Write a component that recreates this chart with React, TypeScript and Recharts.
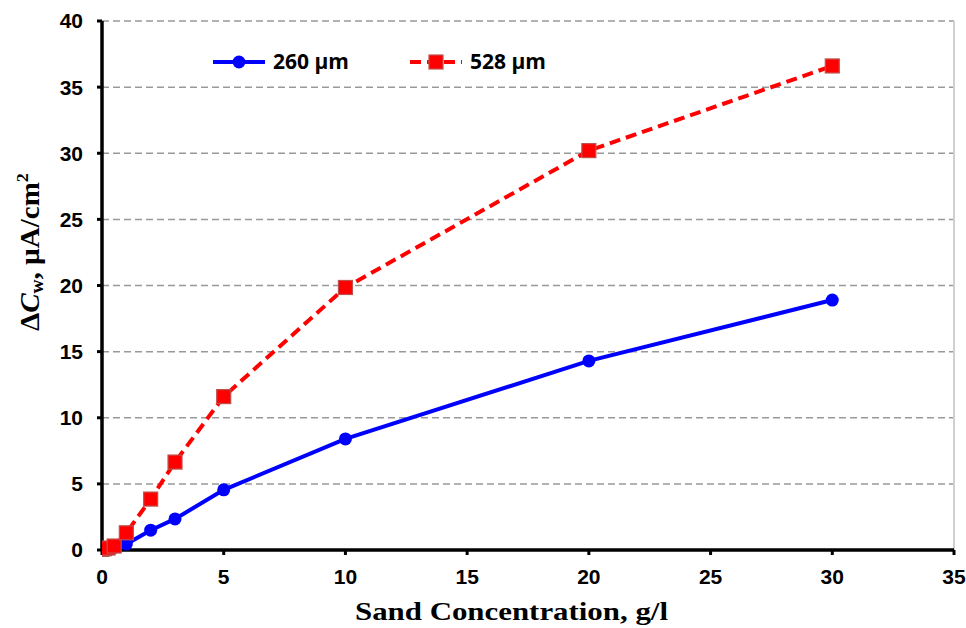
import React from "react";
import {
  LineChart,
  Line,
  XAxis,
  YAxis,
  CartesianGrid,
  ReferenceLine,
  Label,
} from "recharts";

// sand concentration (g/l) and current change for the two particle sizes
const concentration = [0, 0.1, 0.25, 0.5, 1, 2, 3, 5, 10, 20, 30];
const delta260 = [0, 0.05, 0.1, 0.2, 0.45, 1.5, 2.35, 4.55, 8.4, 14.3, 18.9];
const delta528 = [0.05, 0.1, 0.15, 0.3, 1.3, 3.85, 6.65, 11.6, 19.85, 30.2, 36.6];
const xTicks = [0, 5, 10, 15, 20, 25, 30, 35];
const yTicks = [0, 5, 10, 15, 20, 25, 30, 35, 40];

const data260 = concentration.map((c, i) => ({ c, v: delta260[i] }));
const data528 = concentration.map((c, i) => ({ c, v: delta528[i] }));

const BLUE = "#0000ff";
const RED = "#ff0000";
const tickFont = {
  fill: "#000",
  fontFamily: "Liberation Sans, Arial, sans-serif",
  fontWeight: 700,
  fontSize: 21,
};
const titleFont = "Liberation Serif, Times New Roman, serif";

const Square = (props: any) => {
  const { cx, cy } = props;
  if (cx == null || cy == null) return null;
  return (
    <rect
      x={cx - 7}
      y={cy - 7}
      width={14}
      height={14}
      fill={RED}
      stroke="#c0504d"
      strokeWidth={1.2}
    />
  );
};

// legend drawn as an overlay so it doesn't take space from the plot
const LegendBox = () => {
  const text = {
    fontFamily: "Open Sans, Liberation Sans, sans-serif",
    fontWeight: 700,
    fontSize: 21,
    fill: "#000",
  };
  return (
    <svg width={360} height={30}>
      <line x1={0} y1={15} x2={52} y2={15} stroke={BLUE} strokeWidth={4} />
      <circle cx={26} cy={15} r={6.5} fill={BLUE} />
      <text x={60} y={22} {...text}>
        260 µm
      </text>
      <line
        x1={197}
        y1={15}
        x2={249}
        y2={15}
        stroke={RED}
        strokeWidth={4}
        strokeDasharray="11 6"
      />
      <rect x={216} y={8} width={14} height={14} fill={RED} stroke="#c0504d" strokeWidth={1.2} />
      <text x={257} y={22} {...text}>
        528 µm
      </text>
    </svg>
  );
};

const YTitle = () => (
  <text
    x={39}
    y={252}
    transform="rotate(-90, 39, 252)"
    textAnchor="middle"
    textLength={158}
    lengthAdjust="spacingAndGlyphs"
    fontFamily={titleFont}
    fontWeight={700}
    fontSize={27}
    fill="#000"
  >
    Δ<tspan fontStyle="italic">C</tspan>
    <tspan fontSize={18} dy={4}>w</tspan>
    <tspan dy={-4}>, µA/cm</tspan>
    <tspan fontSize={17} dy={-11}>2</tspan>
  </text>
);

const XTitle = () => (
  <text
    x={355}
    y={620}
    textLength={313}
    lengthAdjust="spacingAndGlyphs"
    fontFamily={titleFont}
    fontWeight={700}
    fontSize={26}
    fill="#000"
  >
    Sand Concentration, g/l
  </text>
);

export default function App() {
  return (
    <div style={{ position: "absolute", left: 0, top: 0, width: 966, height: 628, background: "#fff" }}>
      <LineChart
        width={966}
        height={628}
        margin={{ top: 21, right: 12, bottom: 18, left: 20 }}
      >
        <CartesianGrid
          vertical={false}
          stroke="#999"
          strokeWidth={1.5}
          strokeDasharray="7 4"
        />
        <XAxis
          type="number"
          dataKey="c"
          domain={[0, 35]}
          ticks={xTicks}
          allowDataOverflow
          height={60}
          tick={tickFont}
          tickSize={5}
          tickMargin={14}
          axisLine={{ stroke: "#000", strokeWidth: 3.5 }}
          tickLine={{ stroke: "#000", strokeWidth: 3 }}
        >
          <Label content={<XTitle />} />
        </XAxis>
        <YAxis
          type="number"
          domain={[0, 40]}
          ticks={yTicks}
          width={82}
          tick={tickFont}
          tickSize={5}
          tickMargin={14}
          axisLine={{ stroke: "#000", strokeWidth: 3.5 }}
          tickLine={{ stroke: "#000", strokeWidth: 3 }}
        >
          <Label content={<YTitle />} />
        </YAxis>
        <ReferenceLine x={35} stroke="#d0d0d0" strokeWidth={2} />
        <Line
          data={data260}
          dataKey="v"
          name="260 µm"
          stroke={BLUE}
          strokeWidth={4}
          dot={{ r: 6.5, fill: BLUE, stroke: BLUE, strokeWidth: 0 }}
          activeDot={false}
          isAnimationActive={false}
        />
        <Line
          data={data528}
          dataKey="v"
          name="528 µm"
          stroke={RED}
          strokeWidth={4}
          strokeDasharray="11 6"
          dot={<Square />}
          activeDot={false}
          isAnimationActive={false}
        />
      </LineChart>
      <div style={{ position: "absolute", left: 213, top: 47 }}>
        <LegendBox />
      </div>
    </div>
  );
}
